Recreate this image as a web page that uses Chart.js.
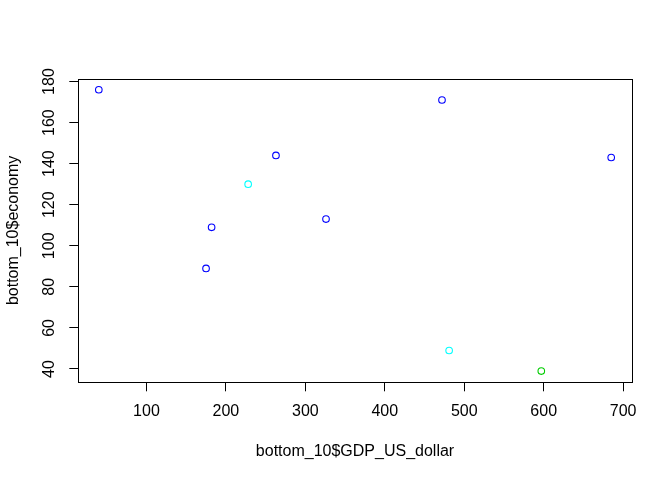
<!DOCTYPE html>
<html>
<head>
<meta charset="utf-8">
<script src="https://cdn.jsdelivr.net/npm/chart.js@4/dist/chart.umd.min.js"></script>
<style>
html,body{margin:0;padding:0;background:#fff;}
#wrap{width:672px;height:480px;}
</style>
</head>
<body>
<div id="wrap"><canvas id="c" width="672" height="480"></canvas></div>
<script>
// Data
const gdpUsDollar = [40, 175, 182, 228, 263, 326, 472, 685, 481, 597];
const economy     = [176, 89, 109, 130, 144, 113, 171, 143, 49, 39];
const pointColors = ['#0000FF','#0000FF','#0000FF','#00FFFF','#0000FF','#0000FF','#0000FF','#0000FF','#00FFFF','#00CD00'];
const xTickValues = [100, 200, 300, 400, 500, 600, 700];
const yTickValues = [40, 60, 80, 100, 120, 140, 160, 180];
const xTitle = 'bottom_10$GDP_US_dollar';
const yTitle = 'bottom_10$economy';

// R-style 4% axis extension
function extend(arr){
  const lo = Math.min(...arr), hi = Math.max(...arr), d = (hi - lo) * 0.04;
  return [lo - d, hi + d];
}
const [xMin, xMax] = extend(gdpUsDollar);
const [yMin, yMax] = extend(economy);

const points = gdpUsDollar.map((x, i) => ({x: x, y: economy[i]}));

const boxPlugin = {
  id: 'box',
  afterDraw(chart){
    const a = chart.chartArea, ctx = chart.ctx;
    ctx.save();
    ctx.strokeStyle = '#000';
    ctx.lineWidth = 1;
    const l = Math.round(a.left) + 0.5, t = Math.round(a.top) + 0.5;
    const r = Math.round(a.right) + 0.5, b = Math.round(a.bottom) + 0.5;
    ctx.strokeRect(l, t, r - l, b - t);
    ctx.restore();
  }
};

const font = {family: '"Liberation Sans", Arial, sans-serif', size: 16};

new Chart(document.getElementById('c'), {
  type: 'scatter',
  data: {
    datasets: [{
      data: points,
      pointStyle: 'circle',
      pointRadius: 3.3,
      pointHoverRadius: 3.3,
      pointBorderWidth: 1.1,
      pointBorderColor: pointColors,
      pointBackgroundColor: 'rgba(0,0,0,0)',
      showLine: false
    }]
  },
  options: {
    responsive: false,
    animation: false,
    devicePixelRatio: 1,
    layout: {padding: {top: 78.5, right: 40.3, left: 0, bottom: 0}},
    plugins: {legend: {display: false}, tooltip: {enabled: false}},
    scales: {
      x: {
        type: 'linear',
        min: xMin, max: xMax,
        afterBuildTicks: s => { s.ticks = xTickValues.map(v => ({value: v})); },
        afterFit: s => { s.height = 97.7; },
        border: {display: false},
        grid: {display: true, drawOnChartArea: false, drawTicks: true, tickLength: 9, color: '#000', tickColor: '#000', lineWidth: 1},
        ticks: {font: font, color: '#000', padding: 11, maxRotation: 0, autoSkip: false},
        title: {display: true, text: xTitle, font: font, color: '#000', padding: {top: 0, bottom: 19.2}}
      },
      y: {
        type: 'linear',
        min: yMin, max: yMax,
        afterBuildTicks: s => { s.ticks = yTickValues.map(v => ({value: v})); },
        afterFit: s => { s.width = 78.3; },
        border: {display: false},
        grid: {display: true, drawOnChartArea: false, drawTicks: true, tickLength: 9, color: '#000', tickColor: '#000', lineWidth: 1},
        ticks: {font: font, color: '#000', padding: 6, minRotation: 90, maxRotation: 90, crossAlign: 'center', autoSkip: false},
        title: {display: true, text: yTitle, font: font, color: '#000', padding: {top: 4.2, bottom: 0}}
      }
    }
  },
  plugins: [boxPlugin]
});
</script>
</body>
</html>
